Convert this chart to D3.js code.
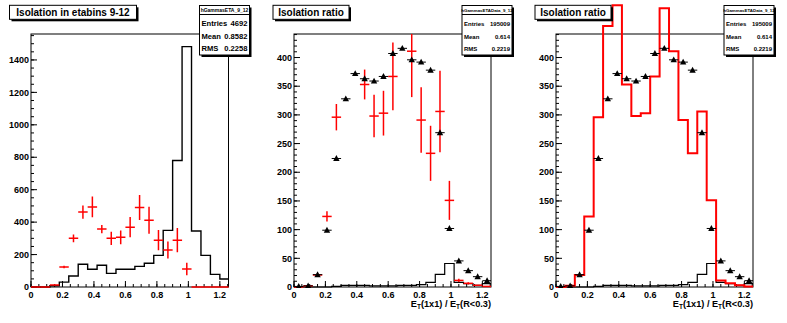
<!DOCTYPE html>
<html><head><meta charset="utf-8">
<script src="https://cdn.jsdelivr.net/npm/d3@7"></script>
<style>
body{margin:0;background:#fff}
svg{display:block}
text{font-family:"Liberation Sans",Arial,Helvetica,sans-serif;font-weight:bold;fill:#000}
</style>
</head><body>
<svg id="c" width="787" height="323"></svg>
<script>
// ---------------- data ----------------
const binEdges = [0,0.06,0.12,0.18,0.24,0.30,0.36,0.42,0.48,0.54,0.60,0.66,0.72,0.78,0.84,0.90,0.96,1.02,1.08,1.14,1.20,1.26];
const xTickLabels = ["0","0.2","0.4","0.6","0.8","1","1.2"];
const xTickValues = [0,0.2,0.4,0.6,0.8,1.0,1.2];

// panel 1 : etabins 9-12
const p1Black = [0,0,8,30,68,140,109,134,84,109,109,127,146,195,349,780,1482,345,195,78,49];
const p1Red   = [0,0,12,123,300,462,494,357,300,306,369,490,412,289,228,289,111,0,0,0,0];
const p1RedErr= [0,0,3,8,24,41,64,26,41,43,63,77,83,62,52,75,38,0,0,0,0];
const p1YTicks = [0,200,400,600,800,1000,1200,1400];

// panels 2 and 3 : isolation ratio
const p2Triangles = [1,2,21.5,99,224,328,372,363,359,367,407,416,396,392,378,269,102,45.5,28.5,18,11];
const p2Red    = [0,2,21,123,296,455,491,353,298,303,367,486,411,291,233,306,151,11.5,6.4,3,1];
const p2RedErr = [0,1,3,9,23,40,45,26,37,39,59,50,80,57,48,71,34,3,2,1.5,1];
const p2Black  = [0,0,0,0,1,3,3,3,2,2,2,3,3,4,8,22,41,8,6,3,6];
const p2YTicks = [0,50,100,150,200,250,300,350,400];

const titles = ["Isolation in etabins 9-12","Isolation ratio","Isolation ratio"];
const statNames = ["hGammasETA_9_12","hGammasETAData_9_12","hGammasETAData_9_12"];
const statEntries = ["4692","195009","195009"];
const statMean = ["0.8582","0.614","0.614"];
const statRMS = ["0.2258","0.2219","0.2219"];
const axisTitleParts = [["E",""],["T","sub"],["(1x1) / E",""],["T","sub"],["(R<0.3)",""]];

// ---------------- layout ----------------
const svg = d3.select("#c");
const defs = svg.append("defs");
const yTop = 34, yBottom = 287;
const layout = [
  {left:31,  right:228.5, ymax:1560, yMinorStep:50, yTicks:p1YTicks, title:{x:9.5, w:127}, stat:{x:199.5, fs:7.6}},
  {left:294, right:491,   ymax:441,  yMinorStep:10, yTicks:p2YTicks, title:{x:273, w:76}, stat:{x:462, fs:6}},
  {left:556, right:753,   ymax:441,  yMinorStep:10, yTicks:p2YTicks, title:{x:535, w:76}, stat:{x:724, fs:6}}
];
const XMAX = 1.255;

function stepPath(x, y, vals){
  const pts = [{x:binEdges[0], y:0}];
  vals.forEach((v,i)=>pts.push({x:binEdges[i], y:v}));
  pts.push({x:binEdges[vals.length], y:vals[vals.length-1]});
  return d3.line().x(d=>x(d.x)).y(d=>y(d.y)).curve(d3.curveStepAfter)(pts);
}

layout.forEach((L, pi)=>{
  const x = d3.scaleLinear().domain([0, XMAX]).range([L.left, L.right]);
  const y = d3.scaleLinear().domain([0, L.ymax]).range([yBottom, yTop]);
  const g = svg.append("g");

  defs.append("clipPath").attr("id","cf"+pi).append("rect")
    .attr("x",L.left).attr("y",yTop).attr("width",L.right-L.left).attr("height",yBottom-yTop+1);
  defs.append("clipPath").attr("id","cx"+pi).append("rect")
    .attr("x",L.left).attr("y",0).attr("width",L.right-L.left).attr("height",yBottom+1);

  // frame
  g.append("rect").attr("x",L.left).attr("y",yTop).attr("width",L.right-L.left).attr("height",yBottom-yTop)
    .attr("fill","none").attr("stroke","#000").attr("stroke-width",1);

  // axes ticks
  const yMinor = d3.range(0, L.ymax, L.yMinorStep);
  g.selectAll(".ymin").data(yMinor).join("line")
    .attr("x1",L.left).attr("x2",L.left+3).attr("y1",d=>y(d)).attr("y2",d=>y(d))
    .attr("stroke","#000");
  g.selectAll(".ymaj").data(L.yTicks).join("line")
    .attr("x1",L.left).attr("x2",L.left+6).attr("y1",d=>y(d)).attr("y2",d=>y(d))
    .attr("stroke","#000");
  g.selectAll(".ylab").data(L.yTicks).join("text")
    .attr("x",L.left-2).attr("y",d=>y(d)+3.2).attr("text-anchor","end")
    .attr("font-size",9).text(d=>d);

  const xMinor = d3.range(0, XMAX, 0.05);
  g.selectAll(".xmin").data(xMinor).join("line")
    .attr("x1",d=>x(d)).attr("x2",d=>x(d)).attr("y1",yBottom).attr("y2",yBottom-3)
    .attr("stroke","#000");
  g.selectAll(".xmaj").data(xTickValues).join("line")
    .attr("x1",d=>x(d)).attr("x2",d=>x(d)).attr("y1",yBottom).attr("y2",yBottom-6)
    .attr("stroke","#000");
  g.selectAll(".xlab").data(xTickValues).join("text")
    .attr("x",d=>x(d)).attr("y",297.5).attr("text-anchor","middle")
    .attr("font-size",9).text((d,i)=>xTickLabels[i]);

  const centers = binEdges.slice(0,-1).map((e,i)=>(e+binEdges[i+1])/2);
  const hw = (binEdges[1]-binEdges[0])/2;

  if(pi===0){
    g.append("path").attr("d",stepPath(x,y,p1Black)).attr("fill","none")
      .attr("stroke","#000").attr("stroke-width",1.4).attr("clip-path","url(#cf0)");
    const cr = g.append("g").attr("clip-path","url(#cf0)");
    p1Red.forEach((v,i)=>{
      cr.append("line").attr("x1",x(centers[i]-hw)).attr("x2",x(centers[i]+hw))
        .attr("y1",y(v)).attr("y2",y(v)).attr("stroke","#f00").attr("stroke-width",1.5);
      if(p1RedErr[i]>0) cr.append("line").attr("x1",x(centers[i])).attr("x2",x(centers[i]))
        .attr("y1",y(v-p1RedErr[i])).attr("y2",y(v+p1RedErr[i])).attr("stroke","#f00").attr("stroke-width",1.5);
    });
  } else {
    g.append("path").attr("d",stepPath(x,y,p2Black)).attr("fill","none")
      .attr("stroke","#000").attr("stroke-width",1.2).attr("clip-path","url(#cf"+pi+")");
    if(pi===1){
      const cr = g.append("g").attr("clip-path","url(#cf1)");
      p2Red.forEach((v,i)=>{
        if(v> L.ymax) return;
        cr.append("line").attr("x1",x(centers[i]-hw)).attr("x2",x(centers[i]+hw))
          .attr("y1",y(v)).attr("y2",y(v)).attr("stroke","#f00").attr("stroke-width",1.5);
        if(p2RedErr[i]>1.5) cr.append("line").attr("x1",x(centers[i])).attr("x2",x(centers[i]))
          .attr("y1",y(v-p2RedErr[i])).attr("y2",y(v+p2RedErr[i])).attr("stroke","#f00").attr("stroke-width",1.5);
      });
    } else {
      g.append("path").attr("d",stepPath(x,y,p2Red)).attr("fill","none")
        .attr("stroke","#f00").attr("stroke-width",2).attr("clip-path","url(#cx2)");
    }
    // triangles with horizontal error bars
    const tg = g.append("g").attr("clip-path","url(#cx"+pi+")");
    p2Triangles.forEach((v,i)=>{
      const cx = x(centers[i]), cy = y(v);
      tg.append("line").attr("x1",x(centers[i]-hw)).attr("x2",x(centers[i]+hw))
        .attr("y1",cy).attr("y2",cy).attr("stroke","#000").attr("stroke-width",1);
      tg.append("path").attr("d",`M${cx},${cy-3.4}L${cx+3.2},${cy+2.5}L${cx-3.2},${cy+2.5}Z`).attr("fill","#000");
    });
    // axis title
    const t = g.append("text").attr("x",L.right).attr("y",307).attr("text-anchor","end").attr("font-size",9.2);
    axisTitleParts.forEach((p,k)=>{
      const ts = t.append("tspan").text(p[0]);
      if(p[1]==="sub") ts.attr("font-size",6.5).attr("dy",2);
      else if(k>0) ts.attr("dy",-2);
    });
  }

  // title box
  const tb = svg.append("g");
  tb.append("rect").attr("x",L.title.x+2).attr("y",7.3).attr("width",L.title.w).attr("height",14).attr("fill","#000");
  tb.append("rect").attr("x",L.title.x).attr("y",5.3).attr("width",L.title.w).attr("height",14)
    .attr("fill","#fff").attr("stroke","#000").attr("stroke-width",1);
  tb.append("text").attr("x",L.title.x+L.title.w/2).attr("y",16.2).attr("text-anchor","middle")
    .attr("font-size",10).text(titles[pi]);

  // stat box
  const sx = L.stat.x, sw = 50, sy = 5.5, sh = 49.5;
  const sb = svg.append("g");
  sb.append("rect").attr("x",sx+2).attr("y",sy+2).attr("width",sw).attr("height",sh).attr("fill","#000");
  sb.append("rect").attr("x",sx).attr("y",sy).attr("width",sw).attr("height",sh)
    .attr("fill","#fff").attr("stroke","#000").attr("stroke-width",1);
  sb.append("line").attr("x1",sx).attr("x2",sx+sw).attr("y1",sy+9).attr("y2",sy+9).attr("stroke","#000");
  sb.append("text").attr("x",sx+sw/2).attr("y",sy+6.8).attr("text-anchor","middle")
    .attr("font-size",pi===0?5:4.4).attr("font-weight","normal").text(statNames[pi]);
  const rows = [["Entries",statEntries[pi]],["Mean",statMean[pi]],["RMS",statRMS[pi]]];
  rows.forEach((r,k)=>{
    const yy = sy + 20.5 + k*12.5;
    sb.append("text").attr("x",sx+2).attr("y",yy).attr("font-size",L.stat.fs).text(r[0]);
    sb.append("text").attr("x",sx+sw-2).attr("y",yy).attr("text-anchor","end").attr("font-size",L.stat.fs).text(r[1]);
  });
});
</script>
</body></html>
